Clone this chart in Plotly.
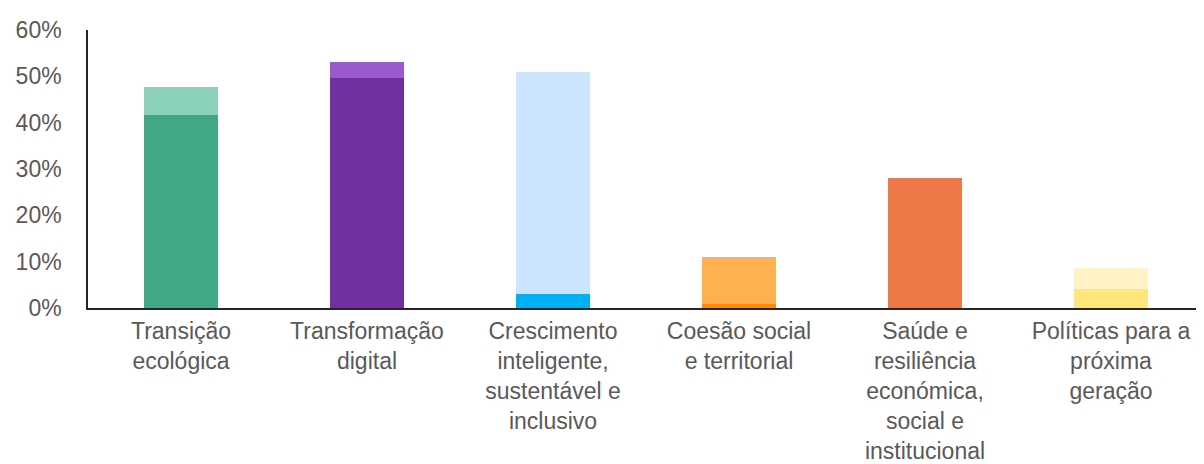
import plotly.graph_objects as go

categories = [
    "Transição<br>ecológica",
    "Transformação<br>digital",
    "Crescimento<br>inteligente,<br>sustentável e<br>inclusivo",
    "Coesão social<br>e territorial",
    "Saúde e<br>resiliência<br>económica,<br>social e<br>institucional",
    "Políticas para a<br>próxima<br>geração",
]
base_values = [41.7, 49.7, 3.1, 0.9, 28.1, 4.2]
extra_values = [6.0, 3.5, 47.8, 10.2, 0.0, 4.5]
base_colors = ["#41A784", "#7030A0", "#00B0F0", "#FF8C00", "#ED7848", "#FFE57A"]
extra_colors = ["#8AD3B9", "#9B59CB", "#CCE5FE", "#FFB050", "#ED7848", "#FFF2C4"]
y_ticks = [0, 10, 20, 30, 40, 50, 60]
y_tick_labels = ["0%", "10%", "20%", "30%", "40%", "50%", "60%"]

fig = go.Figure()
fig.add_trace(go.Bar(x=categories, y=base_values, marker_color=base_colors,
                     marker_line_width=0, width=0.4, showlegend=False))
fig.add_trace(go.Bar(x=categories, y=extra_values, marker_color=extra_colors,
                     marker_line_width=0, width=0.4, showlegend=False))

font = "Liberation Sans, Arial, sans-serif"
fig.update_layout(
    barmode="stack",
    width=1196, height=456,
    margin=dict(l=80, r=0, t=22, b=156),
    plot_bgcolor="white", paper_bgcolor="white",
    font=dict(family=font, size=23, color="#595959"),
)
fig.update_yaxes(range=[0, 60], tickvals=y_ticks, ticktext=y_tick_labels, showgrid=False,
                 zeroline=False, showline=True, linecolor="#262626", linewidth=1.5,
                 ticks="", ticklabelstandoff=20, automargin=False,
                 tickfont=dict(size=23, color="#595959"))
fig.update_xaxes(showgrid=False, showline=True, linecolor="#262626", linewidth=1.5,
                 ticks="", tickangle=0, ticklabelstandoff=2, automargin=False,
                 tickfont=dict(size=23, color="#595959"))

fig.write_html("out.html")
